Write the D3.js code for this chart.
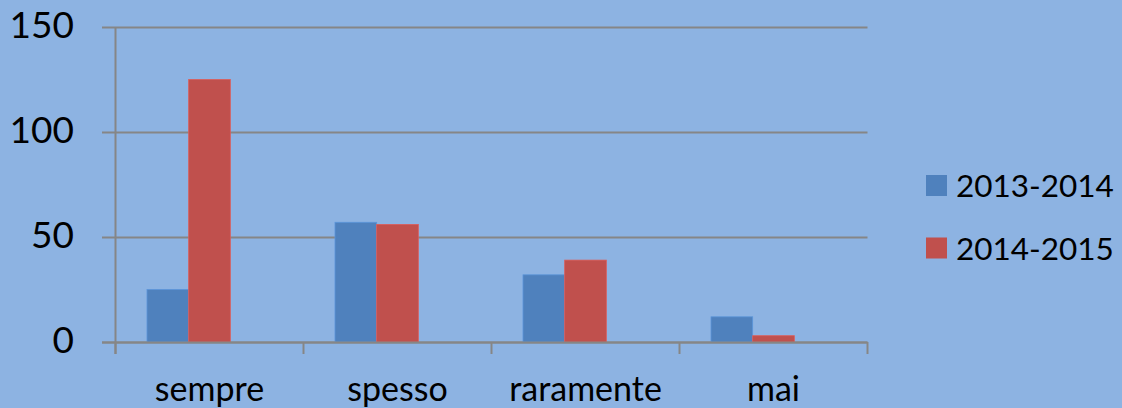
<!DOCTYPE html>
<html><head><meta charset="utf-8">
<script src="https://cdn.jsdelivr.net/npm/d3@7"></script>
<style>
html,body{margin:0;padding:0;background:#8DB3E2;}
svg{display:block;}
text{font-family:Lato, "Open Sans", sans-serif;fill:#000;}
</style></head>
<body>
<svg id="chart" width="1122" height="408"></svg>
<script>
const categories = ["sempre", "spesso", "raramente", "mai"];
const seriesNames = ["2013-2014", "2014-2015"];
const series2013 = [25, 57, 32, 12];
const series2014 = [125, 56, 39, 3];
const yTicks = [0, 50, 100, 150];
const seriesColors = ["#4F81BD", "#C0504D"];

(function () {
const seriesValues = [series2013, series2014];
const svg = d3.select("#chart");
const W = 1122, H = 408;
svg.append("rect").attr("width", W).attr("height", H).attr("fill", "#8DB3E2");

const pLeft = 115.5, pRight = 867.5, pTop = 27, pBottom = 342;
const y = d3.scaleLinear().domain([0, 150]).range([pBottom, pTop]);
const pad = 63 / 188;
const x0 = d3.scaleBand().domain(categories).range([pLeft, pRight])
  .paddingInner(pad).paddingOuter(pad / 2);
// Excel reserves three series slots per category; only two are filled
const x1 = d3.scaleBand().domain([0, 1, 2]).range([0, x0.bandwidth()]);

const grid = "#868686";
svg.append("g").selectAll("line").data(yTicks).join("line")
  .attr("x1", 102).attr("x2", pRight)
  .attr("y1", d => Math.round(y(d)) + 0.5).attr("y2", d => Math.round(y(d)) + 0.5)
  .attr("stroke", grid).attr("stroke-width", 2);

const gBars = svg.append("g");
seriesValues.forEach((vals, si) => {
  gBars.append("g").selectAll("rect").data(vals).join("rect")
    .attr("x", (d, i) => x0(categories[i]) + x1(si))
    .attr("width", x1.bandwidth())
    .attr("y", d => y(d))
    .attr("height", d => y(0) - y(d))
    .attr("fill", seriesColors[si])
    .attr("stroke", d3.color(seriesColors[si]).brighter(0.4))
    .attr("stroke-width", 0.8);
});

svg.append("line").attr("x1", pLeft).attr("x2", pLeft).attr("y1", pTop).attr("y2", 354)
  .attr("stroke", grid).attr("stroke-width", 2);
svg.append("line").attr("x1", 102).attr("x2", pRight).attr("y1", Math.round(y(0)) + 0.5).attr("y2", Math.round(y(0)) + 0.5)
  .attr("stroke", grid).attr("stroke-width", 2);
const tickPos = categories.map(c => x0(c) - x0.step() * pad / 2).concat([pRight]);
svg.append("g").selectAll("line").data(tickPos).join("line")
  .attr("x1", d => d).attr("x2", d => d).attr("y1", pBottom).attr("y2", 354)
  .attr("stroke", grid).attr("stroke-width", 2);

svg.append("g").selectAll("text").data(yTicks).join("text")
  .attr("x", 74).attr("y", d => y(d)).attr("dy", "0.3em")
  .attr("text-anchor", "end").style("font-size", "37px")
  .text(d => d);

svg.append("g").selectAll("text").data(categories).join("text")
  .attr("x", d => x0(d) + x0.bandwidth() / 2).attr("y", 401)
  .attr("text-anchor", "middle").style("font-size", "34px")
  .text(d => d);

const lg = svg.append("g");
seriesNames.forEach((n, i) => {
  const yy = 175 + i * 62.5;
  lg.append("rect").attr("x", 926).attr("y", yy).attr("width", 21).attr("height", 21)
    .attr("fill", seriesColors[i]);
  lg.append("text").attr("x", 956).attr("y", yy + 22).style("font-size", "31.5px").text(n);
});
})();
</script>
</body></html>
